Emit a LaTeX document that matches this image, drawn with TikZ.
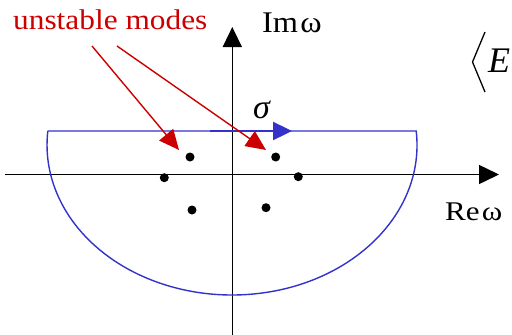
\documentclass[tikz,border=0pt]{standalone}
\usepackage{graphicx}
\usepackage{fontspec}
\setmainfont{Liberation Serif}
\usetikzlibrary{arrows.meta}
\definecolor{modered}{RGB}{204,0,0}
\definecolor{contourblue}{RGB}{51,51,204}
\tikzset{
  axis/.style={line width=1.5pt, black, -{Triangle[length=20pt,width=19pt]}},
  contour/.style={line width=1.4pt, contourblue},
  sigmaarrow/.style={line width=2.4pt, contourblue, -{Triangle[length=19pt,width=18pt]}},
  pointer/.style={line width=1.4pt, modered, -{Triangle[length=20pt,width=18pt]}},
  pole/.style={circle, fill=black, inner sep=0pt, minimum size=9pt},
  lbl/.style={inner sep=0pt, anchor=base west},
}
\begin{document}
\begin{tikzpicture}[x=1pt,y=-1pt]
\useasboundingbox (0,0) rectangle (512,335);
% axes
\coordinate (xl) at (5,174.5);
\coordinate (xr) at (499,174.5);
\coordinate (yb) at (232.3,335);
\coordinate (yt) at (232.3,27);
\draw[axis] (xl) -- (xr);
\draw[axis] (yb) -- (yt);
% contour
\draw[contour] (47.8,131) -- (416.2,131)
  arc[start angle=5.36, end angle=-185.36, x radius=185pt, y radius=150pt];
\coordinate (s0) at (210,131);
\coordinate (s1) at (292,131);
\draw[sigmaarrow] (s0) -- (s1);
\node[lbl, font=\fontsize{34}{38}\selectfont\itshape] (sig) at (253,118) {σ};
% poles
\node[pole] (p1) at (190,157) {};
\node[pole] (p2) at (275.7,157) {};
\node[pole] (p3) at (164.3,177.7) {};
\node[pole] (p4) at (298.3,176.7) {};
\node[pole] (p5) at (192,210) {};
\node[pole] (p6) at (266,207.7) {};
% labels
\node[lbl, text=modered, font=\fontsize{28.5}{32}\selectfont] (um) at (13,29) {\scalebox{1.1}[1]{unstable modes}};
\node[lbl, font=\fontsize{30}{34}\selectfont] (im) at (262,32) {\scalebox{1.08}[1]{Im\hspace{2pt}ω}};
\node[lbl, font=\fontsize{27}{31}\selectfont] (re) at (445,220) {\scalebox{1.15}[1]{Re\hspace{2pt}ω}};
\node[lbl, font=\fontsize{36}{40}\selectfont\itshape] (ee) at (488,72) {E};
\draw[line width=1.3pt, line join=miter] (485,32) -- (472.5,62) -- (485,92);
% pointers
\coordinate (a1) at (92,46);
\coordinate (a2) at (117,46);
\coordinate (t1) at (179,150);
\coordinate (t2) at (266,150);
\draw[pointer] (a1) -- (t1);
\draw[pointer] (a2) -- (t2);
\end{tikzpicture}
\end{document}
